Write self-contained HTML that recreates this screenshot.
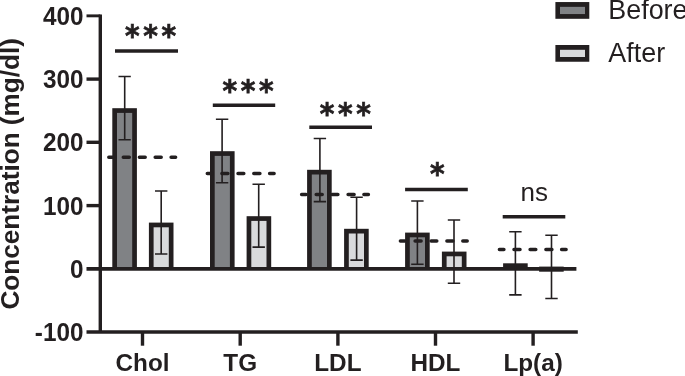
<!DOCTYPE html>
<html lang="en"><head><meta charset="utf-8"><title>Concentration (mg/dl) before and after</title>
<style>html,body{margin:0;padding:0;background:#fff;overflow:hidden}svg{display:block;will-change:transform}text{font-family:"Liberation Sans",Arial,Helvetica,sans-serif;fill:#231f20}.b{font-weight:bold}.tk{font-size:24.3px;font-weight:bold}.st{font-family:"DejaVu Sans","Liberation Sans",sans-serif;font-weight:bold;font-size:28px;letter-spacing:3.6px;stroke:#231f20;stroke-width:.7px}</style></head><body>
<svg width="685" height="376" viewBox="0 0 685 376">
<rect width="685" height="376" fill="#fff"/>
<g>
<rect x="112.3" y="108.2" width="24.6" height="160.7" fill="#231f20"/>
<rect x="117.0" y="112.9" width="15.2" height="156.0" fill="#808285"/>
<rect x="148.9" y="222.6" width="24.6" height="46.3" fill="#231f20"/>
<rect x="153.6" y="227.3" width="15.2" height="41.6" fill="#d9dadc"/>
<rect x="210.0" y="151.2" width="24.6" height="117.7" fill="#231f20"/>
<rect x="214.7" y="155.9" width="15.2" height="113.0" fill="#808285"/>
<rect x="246.6" y="216.2" width="24.6" height="52.7" fill="#231f20"/>
<rect x="251.3" y="220.9" width="15.2" height="48.0" fill="#d9dadc"/>
<rect x="307.1" y="169.8" width="24.6" height="99.1" fill="#231f20"/>
<rect x="311.8" y="174.5" width="15.2" height="94.4" fill="#808285"/>
<rect x="344.1" y="228.8" width="24.6" height="40.1" fill="#231f20"/>
<rect x="348.8" y="233.5" width="15.2" height="35.4" fill="#d9dadc"/>
<rect x="405.1" y="232.6" width="24.6" height="36.3" fill="#231f20"/>
<rect x="409.8" y="237.3" width="15.2" height="31.6" fill="#808285"/>
<rect x="441.9" y="251.6" width="24.6" height="17.3" fill="#231f20"/>
<rect x="446.6" y="256.3" width="15.2" height="12.6" fill="#d9dadc"/>
<rect x="503.1" y="263.3" width="24.6" height="5.6" fill="#231f20"/>
<rect x="539.1" y="266.6" width="24.6" height="5.1" fill="#231f20"/>
</g>
<g fill="none" stroke="#231f20" stroke-width="3.4" stroke-linejoin="miter" stroke-linecap="butt">
<path d="M100.30,14.4 V332.0"/>
<path d="M86.5,15.85 H100.3" stroke-width="2.9"/>
<path d="M86.5,79.1 H100.3"/>
<path d="M86.5,142.3 H100.3"/>
<path d="M86.5,205.6 H100.3"/>
<path d="M86.5,332.0 H577.8"/>
<path d="M142.5,332.0 V345.7"/>
<path d="M240.2,332.0 V345.7"/>
<path d="M337.9,332.0 V345.7"/>
<path d="M435.5,332.0 V345.7"/>
<path d="M533.1,332.0 V345.7"/>
<path d="M86.5,268.9 H576.4" stroke-width="3.8"/>
</g>
<g fill="none" stroke="#231f20" stroke-width="3.5" stroke-linecap="round">
<path d="M108.8,157.3 H113.2M123.3,157.3 H129.3M139.4,157.3 H145.2M155.2,157.3 H161.2M171.1,157.3 H175.6"/>
<path d="M207.3,173.4 H211.8M221.9,173.4 H227.9M238.0,173.4 H243.8M253.8,173.4 H259.9M269.6,173.4 H274.1"/>
<path d="M301.6,194.5 H306.1M316.2,194.5 H322.2M332.2,194.5 H337.9M348.1,194.5 H354.1M363.9,194.5 H368.4"/>
<path d="M400.4,240.9 H404.9M415.1,240.9 H421.1M431.1,240.9 H436.8M446.9,240.9 H452.9M462.8,240.9 H467.2"/>
<path d="M499.4,249.5 H503.9M514.0,249.5 H520.0M530.1,249.5 H535.8M545.9,249.5 H551.9M561.6,249.5 H566.1"/>
</g>
<g fill="none" stroke="#231f20" stroke-width="1.6">
<path d="M124.7,76.5 V139.7 M118.5,76.5 H130.8 M118.5,139.7 H130.8"/>
<path d="M161.2,191.0 V254.0 M155.0,191.0 H167.4 M155.0,254.0 H167.4"/>
<path d="M222.1,119.3 V182.8 M215.9,119.3 H228.3 M215.9,182.8 H228.3"/>
<path d="M258.7,184.2 V247.1 M252.5,184.2 H264.9 M252.5,247.1 H264.9"/>
<path d="M319.9,138.5 V201.6 M313.7,138.5 H326.1 M313.7,201.6 H326.1"/>
<path d="M356.6,197.2 V260.1 M350.4,197.2 H362.8 M350.4,260.1 H362.8"/>
<path d="M417.4,201.0 V264.2 M411.2,201.0 H423.6 M411.2,264.2 H423.6"/>
<path d="M454.0,220.0 V283.2 M447.8,220.0 H460.2 M447.8,283.2 H460.2"/>
<path d="M515.4,231.8 V294.9 M509.2,231.8 H521.6 M509.2,294.9 H521.6"/>
<path d="M551.5,235.2 V298.5 M545.3,235.2 H557.7 M545.3,298.5 H557.7"/>
</g>
<g fill="none" stroke="#231f20" stroke-width="3.5">
<path d="M115.0,51.0 H178.0"/>
<path d="M212.8,105.2 H275.2"/>
<path d="M309.3,127.3 H372.0"/>
<path d="M405.1,189.5 H467.8"/>
<path d="M502.7,216.8 H565.3"/>
</g>
<text class="st" transform="translate(125.0,46.3) scale(1,1.05)">***</text>
<text class="st" transform="translate(222.5,101.1) scale(1,1.05)">***</text>
<text class="st" transform="translate(319.8,123.9) scale(1,1.05)">***</text>
<text class="st" transform="translate(430.1,183.9) scale(1,1.05)">*</text>
<text x="534.3" y="201.4" font-size="26" text-anchor="middle">ns</text>
<text class="tk" transform="translate(83.5,16.2) scale(1,1.04)" y="8.4" text-anchor="end">400</text>
<text class="tk" transform="translate(83.5,79.4) scale(1,1.04)" y="8.4" text-anchor="end">300</text>
<text class="tk" transform="translate(83.5,142.7) scale(1,1.04)" y="8.4" text-anchor="end">200</text>
<text class="tk" transform="translate(83.5,205.9) scale(1,1.04)" y="8.4" text-anchor="end">100</text>
<text class="tk" transform="translate(83.5,269.2) scale(1,1.04)" y="8.4" text-anchor="end">0</text>
<text class="tk" transform="translate(83.5,332.4) scale(1,1.04)" y="8.4" text-anchor="end">-100</text>
<text class="tk" x="142.5" y="370.8" text-anchor="middle">Chol</text>
<text class="tk" x="240.2" y="370.8" text-anchor="middle">TG</text>
<text class="tk" x="337.9" y="370.8" text-anchor="middle">LDL</text>
<text class="tk" x="435.5" y="370.8" text-anchor="middle">HDL</text>
<text class="tk" x="533.1" y="370.8" text-anchor="middle">Lp(a)</text>
<text class="b" font-size="26.15" text-anchor="middle" transform="translate(18.9,173.8) rotate(-90)">Concentration (mg/dl)</text>
<rect x="555.4" y="2.05" width="33.9" height="16.75" fill="#231f20"/>
<rect x="560.0" y="6.85" width="25.0" height="7.2" fill="#808285"/>
<text x="608.3" y="19.0" font-size="26.9">Before</text>
<rect x="555.4" y="45.00" width="33.9" height="16.75" fill="#231f20"/>
<rect x="560.0" y="49.80" width="25.0" height="7.2" fill="#d9dadc"/>
<text x="608.3" y="61.8" font-size="26.9">After</text>
</svg></body></html>
